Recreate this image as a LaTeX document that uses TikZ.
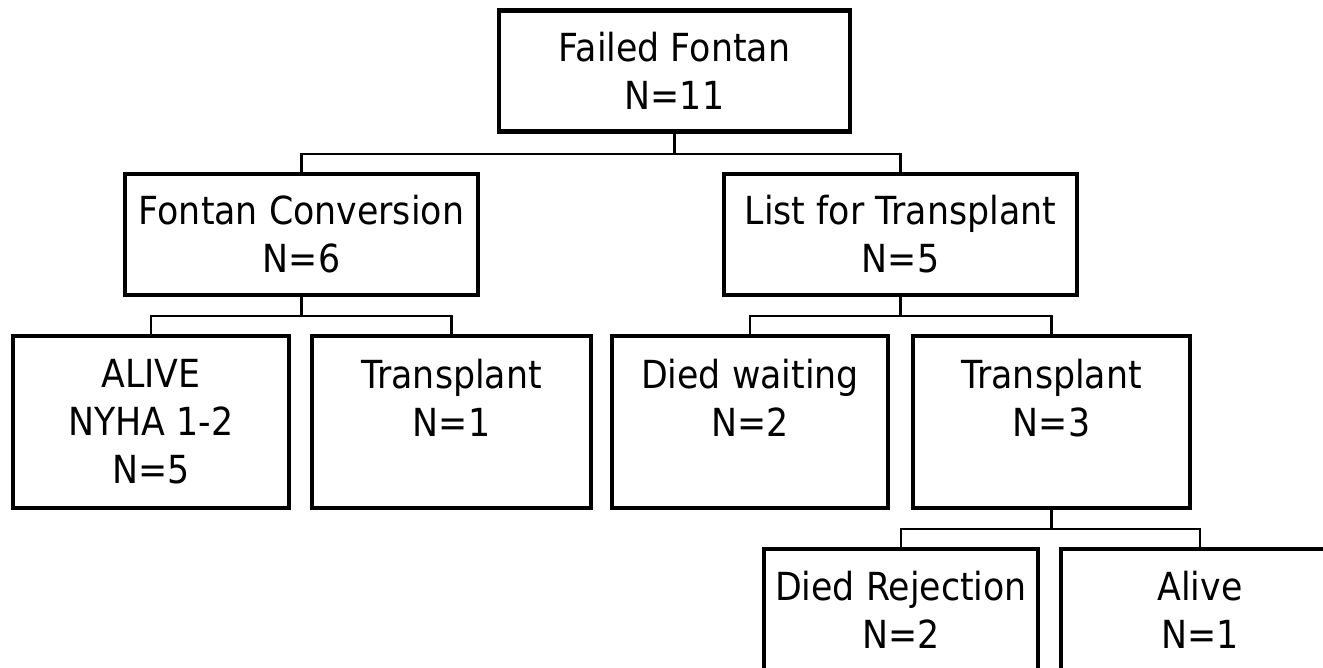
\documentclass[tikz,border=0pt]{standalone}
\usepackage{fontspec}
\setmainfont[FakeStretch=0.9]{DejaVu Sans}

\tikzset{
  box/.style={draw, line width=2.5pt, inner sep=0pt, align=center,
    minimum height=#1, font=\fontsize{22}{27.3}\selectfont},
  box/.default=2.42cm,
  link/.style={line width=1.2pt}
}

\begin{document}
\begin{tikzpicture}[x=0.02cm,y=-0.02cm]

        \clip (0,0) rectangle (1323,668);
        \fill[white] (0,0) rectangle (1323,668);

        \node[box, minimum width=7.02cm] (fail) at (674.5,71) {Failed Fontan\\N=11};

        \node[box, minimum width=7.06cm] (conv) at (301.5,234.5) {Fontan Conversion\\N=6};
        \node[box, minimum width=7.06cm] (list) at (900.5,234.5) {List for Transplant\\N=5};

        \node[box=3.44cm, minimum width=5.52cm] (alive) at (151,422) {ALIVE\\NYHA 1-2\\N=5};
        \node[box=3.44cm, minimum width=5.58cm] (txa) at (451.5,422) {Transplant\\N=1\\ \mbox{}};
        \node[box=3.44cm, minimum width=5.52cm] (wait) at (750,422) {Died waiting\\N=2\\ \mbox{}};
        \node[box=3.44cm, minimum width=5.54cm] (txb) at (1051.5,422) {Transplant\\N=3\\ \mbox{}};

        \node[box=2.44cm, minimum width=5.48cm] (rej) at (901,610) {Died Rejection\\N=2};
        \node[box=2.44cm, minimum width=5.56cm] (alv) at (1200,610) {Alive\\N=1};

        \draw[link] (fail.south) -- ++(0,20) -| (conv.north);
        \draw[link] (fail.south) -- ++(0,20) -| (list.north);

        \draw[link] (conv.south) -- ++(0,19) -| (alive.north);
        \draw[link] (conv.south) -- ++(0,19) -| (txa.north);

        \draw[link] (list.south) -- ++(0,19) -| (wait.north);
        \draw[link] (list.south) -- ++(0,19) -| (txb.north);

        \draw[link] (txb.south) -- ++(0,19) -| (rej.north);
        \draw[link] (txb.south) -- ++(0,19) -| (alv.north);

\end{tikzpicture}
\end{document}
